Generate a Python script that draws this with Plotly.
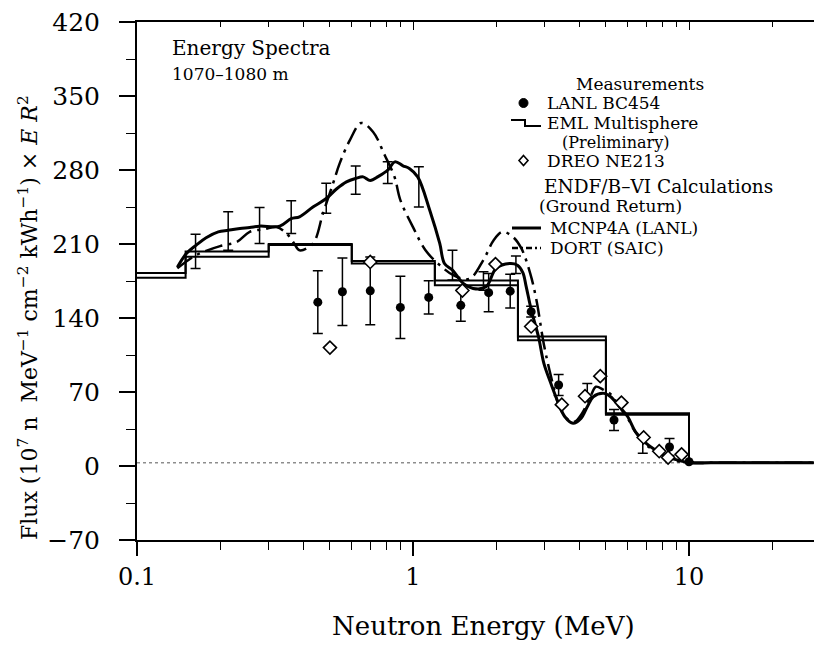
import plotly.graph_objects as go

# ---------------- data ----------------
# EML Multisphere histogram (two nearly coincident step lines)
eml_edges = [0.1, 0.15, 0.3, 0.6, 1.2, 2.4, 5.0, 10.0, 28.3]
eml_upper = [182.5, 203, 210, 194, 175.5, 122.5, 50, 3]
eml_lower = [178, 198, 209, 191.5, 171, 119, 48.5, 3]

# MCNP4A (LANL) calculation
mcnp_x = [0.14, 0.151, 0.164, 0.178, 0.197, 0.214, 0.236, 0.256, 0.278, 0.329, 0.362, 0.388,
          0.434, 0.485, 0.528, 0.574, 0.62, 0.66, 0.70, 0.75, 0.81, 0.86, 0.92, 0.97, 1.04,
          1.15, 1.25, 1.3, 1.39, 1.52, 1.65, 1.84, 2.0, 2.24, 2.39, 2.5, 2.57, 2.68, 2.85,
          2.98, 3.16, 3.37, 3.55, 3.8, 4.06, 4.28, 4.5, 4.92, 5.2, 5.6, 6.0, 6.4, 7.0, 7.8,
          8.5, 9.3, 10.0, 12.0, 15.0, 20.0, 28.3]
mcnp_y = [188, 201, 209, 216, 221.5, 223, 224.7, 225.6, 226.9, 226.9, 234, 235.7,
          245, 253, 262, 268.8, 272, 273.5, 270, 274, 279.8, 287.7, 284, 281.4, 273.5,
          242, 210.5, 191.6, 185.3, 172.7, 168, 169.5, 187, 191.6, 190, 183, 170, 148, 122,
          97, 78, 59, 46.6, 40.4, 45, 56, 65.5, 68.7, 65.5, 56, 46.6, 32.4, 21.5, 13,
          8, 5, 3, 3, 3, 3, 3]

# MCNP4A statistical error bars
mcnp_err_x = [0.163, 0.214, 0.278, 0.362, 0.485, 0.62, 0.81, 1.05, 1.39, 1.8, 2.36, 4.28, 6.8]
mcnp_err_c = [203.1, 222.2, 227.5, 235.4, 253.2, 270.4, 277.5, 264, 190, 175, 190.3, 71.5, 19.9]
mcnp_err_e = [16.2, 18.2, 17, 15.4, 14.2, 13.3, 10.2, 19, 14.1, 8.7, 8.3, 6.5, 7.9]

# DORT (SAIC) calculation
dort_x = [0.14, 0.16, 0.18, 0.2, 0.23, 0.256, 0.29, 0.32, 0.348, 0.37, 0.388, 0.434, 0.472,
          0.513, 0.542, 0.59, 0.649, 0.717, 0.79, 0.857, 0.9, 1.0, 1.11, 1.25, 1.41, 1.6,
          1.8, 1.96, 2.11, 2.3, 2.47, 2.66, 2.8, 2.98, 3.16, 3.37, 3.6, 3.85, 4.1, 4.4, 4.6,
          4.9, 5.2, 5.6, 6.0, 6.4, 7.0, 7.8, 8.5, 9.3, 10.0, 12.0, 15.0, 20.0, 28.3]
dort_y = [187, 198, 204, 208, 212, 221.5, 224, 226, 220, 211, 204, 210.5, 239,
          267, 286, 308, 324.5, 316, 294, 273.5, 251.5, 226, 204, 190, 180, 177,
          195, 213.6, 221.5, 216.8, 205.8, 182, 157, 115, 85, 58, 45, 42, 50, 66, 75,
          72, 68, 56, 45, 32, 20, 12, 7, 4, 3, 3, 3, 3, 3]

# LANL BC454 measurements
lanl_x = [0.452, 0.555, 0.70, 0.90, 1.14, 1.49, 1.88, 2.25, 2.68, 3.37, 5.35, 8.5, 10.0]
lanl_y = [155, 164.8, 165.7, 150, 159.5, 152, 164, 165.4, 146, 76.6, 43.5, 18, 4]
lanl_e = [29.6, 32, 32, 29.5, 15.7, 15, 18, 16, 5, 10, 10, 8, 0]

# DREO NE213 measurements
dreo_x = [0.5, 0.7, 1.51, 1.99, 2.68, 3.46, 4.2, 4.77, 5.69, 6.85, 7.8, 8.4, 9.4]
dreo_y = [112, 193, 166, 191, 132, 58, 66, 85, 60, 27, 14, 8, 11]

# zero reference line
zero_x = [0.1, 28.3]
zero_y = [3, 3]

x_major = [0.1, 1, 10]
x_major_text = ["0.1", "1", "10"]
x_minor = [m * d for d in (0.1, 1, 10) for m in range(2, 10)]
y_ticks = [-70, 0, 70, 140, 210, 280, 350, 420]

FONT = "DejaVu Serif"
BLACK = "black"

fig = go.Figure()

fig.add_trace(go.Scatter(x=zero_x, y=zero_y, mode="lines",
                         line=dict(color="#555", width=1, dash="dot"), showlegend=False))

eml_y_up = eml_upper + [eml_upper[-1]]
eml_y_lo = eml_lower + [eml_lower[-1]]
fig.add_trace(go.Scatter(x=eml_edges, y=eml_y_up, mode="lines", line_shape="hv",
                         line=dict(color=BLACK, width=2), showlegend=False))
fig.add_trace(go.Scatter(x=eml_edges, y=eml_y_lo, mode="lines", line_shape="hv",
                         line=dict(color=BLACK, width=2), showlegend=False))

fig.add_trace(go.Scatter(x=dort_x, y=dort_y, mode="lines", line_shape="spline",
                         line=dict(color=BLACK, width=2.5, dash="18px,6px,3px,6px"),
                         showlegend=False))
fig.add_trace(go.Scatter(x=mcnp_x, y=mcnp_y, mode="lines", line_shape="spline",
                         line=dict(color=BLACK, width=3), showlegend=False))
fig.add_trace(go.Scatter(x=mcnp_err_x, y=mcnp_err_c, mode="markers",
                         marker=dict(size=1, color="rgba(0,0,0,0)"),
                         error_y=dict(type="data", array=mcnp_err_e, color=BLACK,
                                      thickness=1.5, width=5),
                         showlegend=False))
fig.add_trace(go.Scatter(x=lanl_x, y=lanl_y, mode="markers",
                         marker=dict(size=9, color=BLACK, symbol="circle"),
                         error_y=dict(type="data", array=lanl_e, color=BLACK,
                                      thickness=1.5, width=5),
                         showlegend=False))
fig.add_trace(go.Scatter(x=dreo_x, y=dreo_y, mode="markers",
                         marker=dict(size=10, color="white", symbol="diamond",
                                     line=dict(color=BLACK, width=1.6)),
                         showlegend=False))

# ---------------- layout ----------------
L, R, T, B = 137, 0, 22, 107
W, H = 814, 647
pw, ph = W - L - R, H - T - B


def px(xp):
    return (xp - L) / pw


def py(yp):
    return (H - B - yp) / ph


xr = [-1, -1 + pw / 276.0]

fig.update_layout(
    width=W, height=H,
    margin=dict(l=L, r=R, t=T, b=B),
    paper_bgcolor="white", plot_bgcolor="white",
    font=dict(family=FONT, color=BLACK, size=16),
    showlegend=False,
    xaxis=dict(type="log", range=xr, showgrid=False, zeroline=False,
               showline=True, linecolor=BLACK, linewidth=2,
               ticks="outside", ticklen=14, tickwidth=1.5, tickcolor=BLACK,
               tickvals=x_major, ticktext=x_major_text,
               tickfont=dict(size=24, family=FONT),
               minor=dict(tickvals=x_minor, ticks="outside", ticklen=8,
                          tickwidth=1.2, tickcolor=BLACK)),
    xaxis2=dict(type="log", range=xr, overlaying="x", side="top", showgrid=False,
                zeroline=False, showline=True, linecolor=BLACK, linewidth=2,
                ticks="inside", ticklen=8, tickwidth=1.2, tickcolor=BLACK,
                tickvals=x_major, showticklabels=False,
                minor=dict(tickvals=x_minor, ticks="inside", ticklen=5,
                           tickwidth=1.2, tickcolor=BLACK)),
    yaxis=dict(range=[-70, 420], showgrid=False, zeroline=False,
               showline=True, linecolor=BLACK, linewidth=2,
               ticks="outside", ticklen=16, tickwidth=1.5, tickcolor=BLACK,
               tickvals=y_ticks, ticktext=["\u221270"] + [str(v) for v in y_ticks[1:]],
               tickfont=dict(size=25, family=FONT), ticklabelstandoff=14,
               minor=dict(dtick=35, tick0=0, ticks="outside", ticklen=9,
                          tickwidth=1.2, tickcolor=BLACK)),
)
# dummy trace to activate xaxis2
fig.add_trace(go.Scatter(x=[1], y=[0], xaxis="x2", mode="markers",
                         marker=dict(size=1, color="rgba(0,0,0,0)"), showlegend=False,
                         hoverinfo="skip"))

ann = []


def text(xp, yp, s, size=17, anchor="left", angle=0):
    ann.append(dict(x=px(xp), y=py(yp), xref="paper", yref="paper", text=s,
                    showarrow=False, xanchor=anchor, yanchor="middle", textangle=angle,
                    font=dict(size=size, family=FONT, color=BLACK)))


# axis titles
text(483, 626, "Neutron Energy (MeV)", size=26, anchor="center")
text(28, 318, "Flux (10<sup>7</sup> n  MeV<sup>\u22121</sup> cm<sup>\u22122</sup> "
              "kWh<sup>\u22121</sup>) \u00d7 <i>E R</i><sup>2</sup>",
     size=22, anchor="center", angle=-90)

text(170, 48, "Energy Spectra", size=20)
text(170, 74, "1070\u20131080 m", size=17)

text(640, 84, "Measurements", size=17, anchor="center")
text(545, 103, "LANL BC454")
text(545, 123, "EML Multisphere")
text(560, 142, "(Preliminary)", size=16)
text(545, 161, "DREO NE213")
text(658, 186, "ENDF/B\u2013VI Calculations", size=18.5, anchor="center")
text(610, 206, "(Ground Return)", size=17, anchor="center")
text(548, 228, "MCNP4A (LANL)")
text(548, 248, "DORT (SAIC)")

shapes = []
# LANL dot
shapes.append(dict(type="circle", xref="paper", yref="paper",
                   x0=px(519), x1=px(528), y0=py(107.5), y1=py(98.5),
                   fillcolor=BLACK, line=dict(color=BLACK, width=1)))
# EML step glyph
shapes.append(dict(type="path", xref="paper", yref="paper",
                   path="M %f,%f L %f,%f L %f,%f L %f,%f" % (
                       px(511), py(120), px(525), py(120), px(525), py(126), px(541), py(126)),
                   line=dict(color=BLACK, width=2)))
# DREO diamond
shapes.append(dict(type="path", xref="paper", yref="paper",
                   path="M %f,%f L %f,%f L %f,%f L %f,%f Z" % (
                       px(523.5), py(155.5), px(528), py(160.5), px(523.5), py(165.5),
                       px(519), py(160.5)),
                   line=dict(color=BLACK, width=1.6), fillcolor="white"))
# MCNP line
shapes.append(dict(type="line", xref="paper", yref="paper",
                   x0=px(512), x1=px(541), y0=py(228), y1=py(228),
                   line=dict(color=BLACK, width=3)))
# DORT line
shapes.append(dict(type="line", xref="paper", yref="paper",
                   x0=px(512), x1=px(541), y0=py(248), y1=py(248),
                   line=dict(color=BLACK, width=2.5, dash="6px,3px,2px,3px")))

fig.update_layout(annotations=ann, shapes=shapes)

fig.write_html("out.html")
